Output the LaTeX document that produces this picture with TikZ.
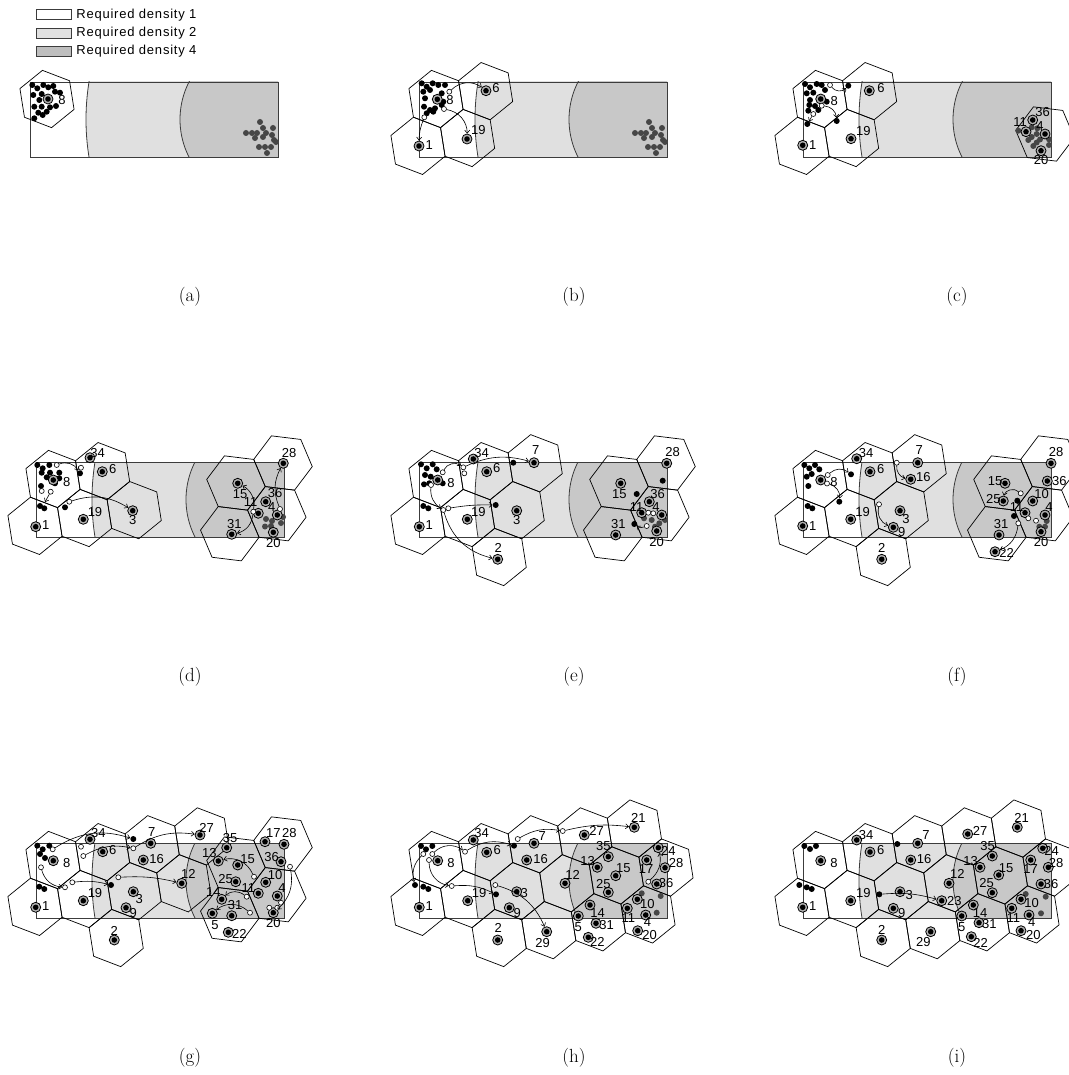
\documentclass[tikz,border=0pt]{standalone}
\usepackage{fontspec}
\setsansfont{Liberation Sans}
\newfontfamily\keyfont[LetterSpace=6]{Liberation Sans}
\usepackage{tikz}
\usetikzlibrary{arrows.meta,positioning}
\usepackage{xcolor}
\definecolor{densmid}{RGB}{224,224,224}
\definecolor{denshigh}{RGB}{200,200,200}
\definecolor{rimgray}{RGB}{60,60,60}
\definecolor{swarmgray}{RGB}{70,70,70}

\newcommand{\gridcell}[2]{\draw[cellline,shift={({17+49.6*(#1)+31.6*(#2)},{17-7.86*(#1)+39*(#2)})}]
  (21:29) -- (81:29) -- (141:29) -- (201:29) -- (261:29) -- (321:29) -- cycle;}
\newcommand{\tiltcell}[2]{\draw[cellline,shift={(#1,#2)}]
  (7:29.5) -- (67:29.5) -- (127:29.5) -- (187:29.5) -- (247:29.5) -- (307:29.5) -- cycle;}
\newcommand{\tiltblock}{\tiltcell{200}{21}\tiltcell{247}{1}\tiltcell{193.8}{71.7}\tiltcell{240.8}{51.7}}
\newcommand{\densityfield}{%
  \begin{scope}
    \clip (0,0) rectangle (248,75);
    \fill[densmid] (290,37.5) circle (234);
    \fill[denshigh] (232.6,37.5) circle (82.6);
    \draw[boundary] (290,37.5) circle (234);
    \draw[boundary] (232.6,37.5) circle (82.6);
  \end{scope}
  \draw[rim] (0,0) rectangle (248,75);}
\newcommand{\rightswarm}{230/40,233/46,243/46,216/51,222/51,227/51,236/51,242/53,225/56,233/55,244/58,229/65,235/65,241/65,246/60,237/71}

\begin{document}
\begin{tikzpicture}[x=1pt,y=-1pt,
    rim/.style={draw=rimgray,line width=0.9pt},
    boundary/.style={draw=rimgray,line width=0.8pt},
    cellline/.style={draw=black,line width=0.7pt},
    head/.style={circle,draw,line width=0.8pt,fill=black!30,inner sep=0pt,minimum size=10pt,
      path picture={\fill[black] (path picture bounding box.center) circle (2.8pt);}},
    agent/.style={circle,fill=black,inner sep=0pt,minimum size=6pt},
    faded/.style={circle,fill=swarmgray,inner sep=0pt,minimum size=6pt},
    ghost/.style={circle,draw,line width=0.6pt,fill=white,inner sep=0pt,minimum size=5pt},
    num/.style={font=\sffamily\fontsize{13}{13}\selectfont,inner sep=0.5pt},
    move/.style={-{Straight Barb[length=3pt,width=5pt]},line width=0.6pt},
    caption/.style={font=\fontsize{19}{19}\selectfont}]
  \useasboundingbox (0,0) rectangle (1068,1075);

  % legend
  \node[draw=rimgray,fill=white,minimum width=35pt,minimum height=10pt,inner sep=0pt] (key1) at (53.5,14.7) {};
  \node[draw=rimgray,fill=densmid,minimum width=35pt,minimum height=10pt,inner sep=0pt] (key2) at (53.5,33.3) {};
  \node[draw=rimgray,fill=denshigh!95!black,minimum width=35pt,minimum height=10pt,inner sep=0pt] (key3) at (53.5,51.2) {};
  \node[right=5pt of key1,inner sep=0pt,font=\keyfont\fontsize{13}{13}\selectfont] (keytext1) {Required density 1};
  \node[right=5pt of key2,inner sep=0pt,font=\keyfont\fontsize{13}{13}\selectfont] (keytext2) {Required density 2};
  \node[right=5pt of key3,inner sep=0pt,font=\keyfont\fontsize{13}{13}\selectfont] (keytext3) {Required density 4};

  % (a)
  \begin{scope}[shift={(30,82)}]
    \densityfield
    \gridcell{0}{0}
    \foreach \x/\y [count=\k] in \rightswarm \node[faded] (af\k) at (\x,\y) {};
    \foreach \x/\y [count=\k] in {2.3/3,7.3/6.3,13.3/3,18.3/5.3,23.3/4,30/10.7,3.3/13,11.7/12,25/9.7,9.3/18,4.3/24.7,11.7/24.7,20/25.3,26/24,8.3/30.7,16.7/29.7,4.3/36.3,12.7/33}
      \node[agent] (ad\k) at (\x,\y) {};
    \node[head] (a8) at (18,17) {};
    \node[num] (at8) at (32,18) {8};
  \end{scope}

  % (b)
  \begin{scope}[shift={(419,82)}]
    \densityfield
    \foreach \p/\q in {0/0,1/0,-1/1,0/1} \gridcell{\p}{\q};
    \foreach \x/\y [count=\k] in \rightswarm \node[faded] (bf\k) at (\x,\y) {};
    \foreach \x/\y [count=\k] in {2.7/1.3,7.7/4.7,13.7/1.3,19.3/3,26/3,4.3/9.7,11/8,22.7/11.3,6/16.3,24.3/19.7,5/24.7,11/28,16/26.3,22.7/23,7.7/31.3,14.3/29.7}
      \node[agent] (bd\k) at (\x,\y) {};
    \foreach \n/\x/\y/\u/\v in {8/18.3/17.3/31/18,6/67/8.7/77/5.7,1/0/64/10.3/63,19/48/57/59.3/48}
      {\node[head] (b\n) at (\x,\y) {}; \node[num] (bt\n) at (\u,\v) {\n};}
    \node[ghost] (bg1) at (30.3,9.7) {};
    \node[ghost] (bg2) at (25,27) {};
    \node[ghost] (bg3) at (5.3,35.3) {};
    \draw[move] (bg1) to[bend left=40] (b6);
    \draw[move] (bg2) to[bend left=40] (b19);
    \draw[move] (bg3) to[bend right=10] (b1);
  \end{scope}

  % (c)
  \begin{scope}[shift={(803,82)}]
    \densityfield
    \foreach \p/\q in {0/0,1/0,-1/1,0/1} \gridcell{\p}{\q};
    \tiltcell{242}{52}
    \foreach \x/\y [count=\k] in {215.3/48.7,228.7/45.3,234.3/46.3,233.7/52,228.7/55,237/57.5,246/57.3,233.7/60.5,225.3/58,230.3/64,246/63}
      \node[faded] (cf\k) at (\x,\y) {};
    \foreach \x/\y [count=\k] in {2/2,7/5.3,13.7/2,18.7/3,3.7/11.3,10.3/10.7,22/8,7/18,23.7/19.7,6.3/23,12/24,15.3/28,5.3/28.7}
      \node[agent] (cd\k) at (\x,\y) {};
    \node[agent] (cm1) at (45.3,3.7) {};
    \node[agent] (cm2) at (33.7,39) {};
    \node[agent] (cm3) at (4.3,42) {};
    \foreach \n/\x/\y/\u/\v in {8/17.7/17/31.3/18.7,6/66.3/8.7/78/5.7,1/-0.3/63.3/9.7/63,19/48/56.7/60.3/48.7,36/229.7/38/239.7/29.7,11/223/49.7/217/39.7,4/242/52/237/44,20/238/68.7/238/78}
      {\node[head] (c\n) at (\x,\y) {}; \node[num] (ct\n) at (\u,\v) {\n};}
    \node[ghost] (cg1) at (27,3) {};
    \node[ghost] (cg2) at (18.7,23.7) {};
    \node[ghost] (cg3) at (10.3,32) {};
    \draw[move] (cg1) to[bend right=50] (cm1);
    \draw[move] (cg2) to[bend left=40] (cm2);
    \draw[move] (cg3) to (cm3);
  \end{scope}

  % (d)
  \begin{scope}[shift={(36,462)}]
    \densityfield
    \foreach \p/\q in {0/0,1/0,-1/1,0/1,1/1} \gridcell{\p}{\q};
    \tiltblock
    \foreach \x/\y [count=\k] in {230/57,236/59,229/64.5,235/64,245/61,247/55}
      \node[faded] (df\k) at (\x,\y) {};
    \foreach \x/\y [count=\k] in {1.3/3,6.7/6.3,13.3/3,5.7/10.7,14/10.7,23.3/10.7,10.7/15.3,23.3/16.3,5/24,19/21.3,4/44,8.3/46.3,29/45.3}
      \node[agent] (dd\k) at (\x,\y) {};
    \node[agent] (dm1) at (44,11.3) {};
    \foreach \n/\x/\y/\u/\v in {8/17.3/18/30.7/19.7,1/-0.3/64.7/9.7/63.3,19/47.3/57.3/59/49.7,34/54/-4.3/61.7/-9.3,6/66.3/9.7/76.7/6.7,3/96.7/48.7/96.7/58,15/201.7/21.3/204/32,31/195.7/72.3/198.3/62,28/247.3/1.3/253/-9.3,36/229.7/39.7/239/31.3,11/222.3/51.3/214.7/39.7,4/241.3/53/235.7/45.3,20/237.3/70.3/237.3/80.7}
      {\node[head] (d\n) at (\x,\y) {}; \node[num] (dt\n) at (\u,\v) {\n};}
    \foreach \n/\x/\y in {1/20.7/3,2/45/5.7,3/5.7/29,4/14.7/29.7,5/33.3/39.7,6/217.3/49.7,7/244/47}
      \node[ghost] (dg\n) at (\x,\y) {};
    \coordinate (de1) at (9,40);
    \draw[move] (dg1) to[bend left=40] (dm1);
    \draw[move] (dg4) to (de1);
    \draw[move] (dg5) to[bend left=25] (d3);
    \draw[move] (dg6) to[bend right=35] (d15);
    \draw[move] (dg6) to[bend left=35] (d31);
    \draw[move] (dg7) to[bend left=25] (d28);
  \end{scope}

  % (e)
  \begin{scope}[shift={(419,462)}]
    \densityfield
    \foreach \p/\q in {0/0,1/0,-1/1,0/1,1/1,2/0,0/2} \gridcell{\p}{\q};
    \tiltblock
    \foreach \x/\y [count=\k] in {225/56.3,232.7/58,240.3/61.3,246/58,236/64.7}
      \node[faded] (ef\k) at (\x,\y) {};
    \foreach \x/\y [count=\k] in {2/2.3,7.7/6.3,13.7/2.3,17.7/7.3,6/13,11.7/14.7,5/22.3,10.3/21.3,23.7/21.3,4.3/44,9.3/46.3,217.7/32,243.7/18.7}
      \node[agent] (ed\k) at (\x,\y) {};
    \node[agent] (em1) at (94.3,0.7) {};
    \node[agent] (em2) at (76.7,43) {};
    \node[agent] (em3) at (215.3,62) {};
    \foreach \n/\x/\y/\u/\v in {8/18.7/18/32/20.7,1/0.3/64.7/10.3/63,19/48.3/57.3/59.3/49.7,34/54.3/-3/62.7/-9.3,6/67.7/9.7/77.7/6.3,7/115/0.7/116.7/-12,3/97.7/48.7/97.7/58,2/78.7/97.3/79.3/85.7,15/201.7/21.3/200.3/32,31/196.7/73/199.3/62,28/247.7/1.3/253.7/-9.7,36/230.3/39.7/238.7/32,11/222.7/50.7/217.7/44.7,4/242.7/53/237/44.7,20/237.7/69/237.7/79.7}
      {\node[head] (e\n) at (\x,\y) {}; \node[num] (et\n) at (\u,\v) {\n};}
    \foreach \n/\x/\y in {1/23.7/10.3,2/12/23,3/44.3/5.3,4/45.3/11.3,5/24.3/48,6/29.3/46.3,7/229.3/50.7,8/234.3/51.3,9/227.7/64}
      \node[ghost] (eg\n) at (\x,\y) {};
    \draw[move] (eg1) to[bend left=50] (eg3);
    \draw[move] (eg3) to[bend left=20] (e7);
    \draw[move] (eg6) to[bend left=5] (em2);
    \draw[move] (eg2) to[bend right=30] (eg5);
    \draw[move] (eg5) to[bend right=30] (e2);
    \draw[move] (eg9) to[bend left=30] (em3);
  \end{scope}

  % (f)
  \begin{scope}[shift={(803,462)}]
    \densityfield
    \foreach \p/\q in {0/0,1/0,-1/1,0/1,1/1,2/0,0/2} \gridcell{\p}{\q};
    \tiltblock
    \foreach \x/\y [count=\k] in {243.7/59,236.3/64.7,242/64.7}
      \node[faded] (ff\k) at (\x,\y) {};
    \foreach \x/\y [count=\k] in {1.3/3,6.3/6.3,12/3,16.3/7.3,8.7/12,3.7/14.7,5.3/24,4.7/44,9.3/46.3,214.3/38.7,211/54}
      \node[agent] (fd\k) at (\x,\y) {};
    \node[agent] (fm1) at (48,12.3) {};
    \node[agent] (fm2) at (36.3,39.7) {};
    \foreach \n/\x/\y/\u/\v in {8/17.7/18/31/19.7,1/-0.3/64/9.7/64,19/47.7/57.3/59.7/49.7,34/53.7/-3.3/63/-9.3,6/67/9.7/77.7/7.3,7/114.7/0.7/116.3/-12,16/107.7/17.3/120.3/15.3,3/97/48.7/103/57.3,9/90.3/65.3/98.7/69.7,2/78.7/97.3/78.7/86.3,15/202/21.3/192/19,25/200.3/39/190.3/37.3,31/196/73/198/62,22/192/89.7/203.7/91.3,28/248/1.3/253/-9.7,36/244.3/19/256.3/19,10/229.7/39/238.7/32.5,11/222/50.7/213.7/45.3,4/242/53/246/45.5,20/238/69.7/238/80.3}
      {\node[head] (f\n) at (\x,\y) {}; \node[num] (ft\n) at (\u,\v) {\n};}
    \foreach \n/\x/\y in {1/24.7/13,2/24/21.5,3/93.7/0.7,4/76/42.3,5/217.7/31.3,6/215.3/61.3,7/225.3/56.3,8/233/58.7}
      \node[ghost] (fg\n) at (\x,\y) {};
    \draw[move] (fg1) to[bend left=40] (fm1);
    \draw[move] (fg2) to[bend left=40] (fm2);
    \draw[move] (fg3) to[bend right=40] (f16);
    \draw[move] (fg4) to[bend right=40] (f9);
    \draw[move] (fg5) to[bend right=60] (f25);
    \draw[move] (fg6) to[bend left=30] (f22);
  \end{scope}

  % (g)
  \begin{scope}[shift={(36,843)}]
    \densityfield
    \foreach \p/\q in {0/0,1/0,-1/1,0/1,1/1,2/0,0/2,3/0,2/1} \gridcell{\p}{\q};
    \tiltblock
    \foreach \x/\y [count=\k] in {1.3/2.7,6.7/6.3,13.3/2.7,4/11,9/15,3.3/43.7,8.3/46}
      \node[agent] (gd\k) at (\x,\y) {};
    \node[agent] (gm1) at (97.3,-4) {};
    \node[agent] (gm2) at (75,42) {};
    \foreach \n/\x/\y/\u/\v in {8/17.3/17.7/30.7/19.7,1/-0.3/64.3/9.7/63,19/47.3/57.7/59/49.7,34/54/-3.7/62.3/-9.7,6/66.7/8.7/76.7/7,7/114.7/0.3/115.7/-11.3,16/107.3/17/120.7/16,3/97.3/48.7/103.3/56.3,9/90/64.7/97.3/69.7,2/78.3/97/78.3/87.7,27/164/-8/170.7/-15.3,12/145.7/40.3/152.3/31.3,35/190.7/4.7/194/-4.7,13/182.3/18/173.3/9.7,15/201.7/22/211.7/16,25/199.7/38.7/189.7/36,14/185.7/56.3/177.3/48.7,31/195.7/72.7/199/62,5/176.3/70.3/179/82,22/192.3/89.3/203.3/91,17/229/-1.3/237.3/-9.7,28/248/1.3/253.3/-9.7,36/245/18.7/235.7/14.3,10/229.7/39.3/239/32.5,11/222.3/50.3/212.3/45.3,4/241.3/53/246/45.5,20/237.3/69.7/237.3/80.3}
      {\node[head] (g\n) at (\x,\y) {}; \node[num] (gt\n) at (\u,\v) {\n};}
    \foreach \n/\x/\y in {1/16.7/6.3,2/45/3.7,3/47.3/13,4/5/24.3,5/29/44.3,6/36.3/39.3,7/82.3/34.3,8/97.3/5.3,9/254/23.7,10/218/33.7,11/210.7/53.7,12/214/69.7,13/233.3/64.7,14/241.3/64.7,15/245/59.7}
      \node[ghost] (gg\n) at (\x,\y) {};
    \draw[move] (gg1) to[bend left=25] (gm1);
    \draw[move] (gg3) to[bend left=20] (gg8);
    \draw[move] (gg8) to[bend left=20] (g27);
    \draw[move] (gg4) to[bend right=35] (gg5);
    \draw[move] (gg6) to[bend left=10] (gm2);
    \draw[move] (gg7) to[bend left=8] (g12);
    \draw[move] (gg10) to[bend right=40] (g13);
    \draw[move] (gg11) to[bend right=40] (g14);
    \draw[move] (gg12) to[bend right=40] (g5);
    \draw[move] (gg9) to[bend left=30] (g20);
  \end{scope}

  % (h)
  \begin{scope}[shift={(419,843)}]
    \densityfield
    \foreach \p/\q in {0/0,1/0,-1/1,0/1,1/1,2/0,0/2,1/2,3/0,4/0,2/1,3/1,2/2,3/2,4/1} \gridcell{\p}{\q};
    \foreach \x/\y [count=\k] in {222.7/50.3,241.7/53,237.7/69.7}
      \node[faded] (hf\k) at (\x,\y) {};
    \foreach \x/\y [count=\k] in {2/3,7/6.3,13.3/3,4.3/43.7,9.3/46}
      \node[agent] (hd\k) at (\x,\y) {};
    \node[agent] (hm1) at (95,2.7) {};
    \node[agent] (hm2) at (77,51.3) {};
    \node[agent] (hm3) at (-4,42) {};
    \foreach \n/\x/\y/\u/\v in {8/18.7/17.7/32/19.7,1/0.3/64.3/10.3/63,19/48.7/57.7/60/49.7,34/54.3/-3/62.7/-10.3,6/67.7/9.3/78.3/7,7/115/0.3/123.3/-7,16/107.7/17/121.7/16,3/97.7/48.7/105.3/50.3,9/90.3/64.7/98.3/69.7,2/78.7/97/79.3/85.3,29/127.7/88.7/123.7/99.7,27/165.3/-8/177.7/-12,21/215.3/-15.7/219.3/-24.7,12/146/40.3/153.7/32,35/189.3/13.7/184.3/3,13/178.3/24.3/168.7/18,15/196.7/32.7/204.3/25.3,25/189.3/49.3/184.3/41,14/171/62/178.7/69.7,5/159.3/73/159.3/83.7,31/177/80.3/187.7/82,22/169.3/94.3/178.3/99.3,17/227.7/17/227/26.3,24/239.3/4.7/249.3/8,28/246/24.7/257/20.3,36/237.7/41/247/40.3,10/218.3/56.3/228.3/61,11/208.3/65.3/209.3/74.7,4/226.7/72/228.5/78.8,20/218.7/87.7/230.5/92.2}
      {\node[head] (h\n) at (\x,\y) {}; \node[num] (ht\n) at (\u,\v) {\n};}
    \foreach \n/\x/\y in {1/4.3/11,2/13.3/11,3/10/17,4/46/8.7,5/32.7/43,6/98.7/-4,7/76.3/42,8/143.7/-12,9/229.3/38.7}
      \node[ghost] (hg\n) at (\x,\y) {};
    \draw[move] (hg2) to[bend left=40] (hg4);
    \draw[move] (hg3) to[bend right=40] (hg5);
    \draw[move] (hg4) to[bend left=25] (hm1);
    \draw[move] (hg5) to[bend left=15] (hm2);
    \draw[move] (hg6) to[bend left=20] (hg8);
    \draw[move] (hg8) to[bend left=10] (h21);
    \draw[move] (hg7) to[bend left=25] (h29);
    \draw[move] (hg1) to[bend right=30] (hm3);
    \draw[move] (hg9) to[bend right=30] (h24);
  \end{scope}

  % (i)
  \begin{scope}[shift={(803,843)}]
    \densityfield
    \foreach \p/\q in {0/0,1/0,-1/1,0/1,1/1,2/0,0/2,1/2,3/0,4/0,2/1,3/1,2/2,3/2,4/1} \gridcell{\p}{\q};
    \foreach \x/\y [count=\k] in {222.7/51,242.7/53.7,238/70.3}
      \node[faded] (if\k) at (\x,\y) {};
    \foreach \x/\y [count=\k] in {1.3/3,7/6,13/3,-3.7/42,3.7/44.3,8.7/46,94.3/1}
      \node[agent] (id\k) at (\x,\y) {};
    \node[agent] (im1) at (76.3,51.3) {};
    \foreach \n/\x/\y/\u/\v in {8/17.7/17.7/31/19.7,1/-0.3/64.3/9.7/63,19/47.7/57.7/60.3/49.7,34/53.7/-3/63/-8,6/67/9/77.7/7,7/114.7/0.3/123/-8,16/107.7/17/121/16.3,3/97/48.7/106.3/52,9/90.3/65.3/98.7/69.7,2/78.7/97/78.7/87,29/127.7/88.7/120.3/98.7,27/164.7/-9/177/-12,21/214.3/-15.7/218.7/-24.7,12/146/40.3/154.3/31.3,23/138.7/57.7/151.3/58,13/177/24.3/167.7/18,35/189.3/13/184.7/3,15/195.7/32/203/24.7,25/189.3/49.7/183.7/40.3,14/170.3/62/177/69.7,5/158.7/73/158.7/83.7,31/176/79.7/186.3/81.3,22/168.3/93.7/177.7/99.7,11/208.7/65.3/210.3/75.3,10/218/56.3/228.7/60.3,4/226/72/228.7/78.8,20/218/87.7/230.3/92.2,17/227.7/17/227.7/26.3,24/239.7/5.3/248.7/8,28/245.3/24.3/253/19.7,36/238/41/248/41}
      {\node[head] (i\n) at (\x,\y) {}; \node[num] (it\n) at (\u,\v) {\n};}
    \draw[move] (im1) to[bend left=10] (i23);
  \end{scope}

  % captions
  \foreach \c/\x/\y in {a/190/297,b/574/297,c/957/297,d/190/677,e/574/677,f/957/677,g/190/1058,h/574/1058,i/957/1058}
    \node[caption] (cap\c) at (\x,\y) {(\c)};
\end{tikzpicture}
\end{document}
